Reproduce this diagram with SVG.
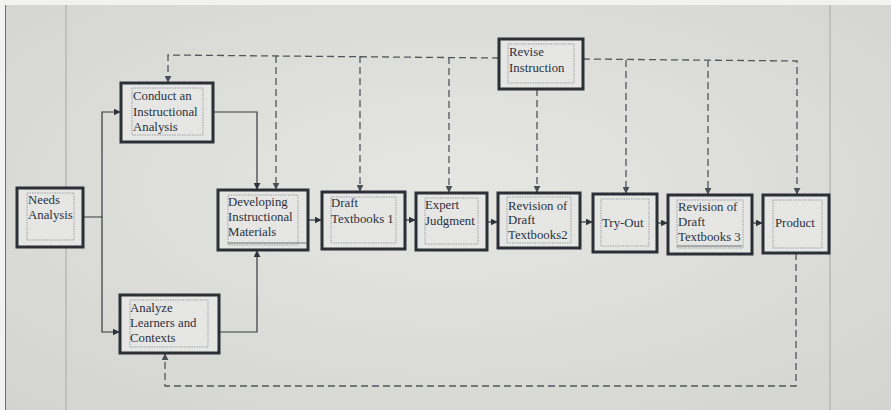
<svg xmlns="http://www.w3.org/2000/svg" width="891" height="410" viewBox="0 0 891 410">
<defs>
<radialGradient id="bg" cx="50%" cy="45%" r="75%">
<stop offset="0" stop-color="#e6e6e3"/>
<stop offset="1" stop-color="#d3d4cf"/>
</radialGradient>
<marker id="ah" viewBox="0 0 10 10" refX="9" refY="5" markerWidth="7" markerHeight="7" markerUnits="userSpaceOnUse" orient="auto">
<path d="M0,0 L10,5 L0,10 z" fill="#2f333a"/>
</marker>
<marker id="ahd" viewBox="0 0 10 10" refX="9" refY="5" markerWidth="7" markerHeight="7" markerUnits="userSpaceOnUse" orient="auto">
<path d="M0,0 L10,5 L0,10 z" fill="#4a4e55"/>
</marker>
</defs>
<style>
.box{fill:#e6e7e4;stroke:#2b2f36;stroke-width:3}
.inner{fill:none;stroke:#8a8d92;stroke-width:0.8;stroke-dasharray:1.5 1}
.t{font-family:"Liberation Serif","Times New Roman",serif;font-size:12.8px;fill:#2b3140}
.s{fill:none;stroke:#35393f;stroke-width:1.2}
.d{fill:none;stroke:#52565c;stroke-width:1.3;stroke-dasharray:7 4}
</style>
<rect x="0" y="0" width="891" height="410" fill="#f2f2f0"/>
<rect x="5" y="5" width="886" height="405" fill="url(#bg)"/>
<line x1="5.5" y1="5" x2="5.5" y2="410" stroke="#6d6f70" stroke-width="1"/>
<line x1="66" y1="5" x2="66" y2="410" stroke="#a6a8a6" stroke-width="1"/>
<line x1="830" y1="5" x2="830" y2="410" stroke="#a6a8a6" stroke-width="1"/>

<g id="connectors">
<path class="s" d="M83,217 H102 V112 H120" marker-end="url(#ah)"/>
<path class="s" d="M102,217 V332 H119" marker-end="url(#ah)"/>
<path class="s" d="M213,112 H257 V189" marker-end="url(#ah)"/>
<path class="s" d="M219,332 H257 V251" marker-end="url(#ah)"/>
<path class="s" d="M308,220 H321" marker-end="url(#ah)"/>
<path class="s" d="M405,220 H415" marker-end="url(#ah)"/>
<path class="s" d="M487,222 H497" marker-end="url(#ah)"/>
<path class="s" d="M580,222 H592" marker-end="url(#ah)"/>
<path class="s" d="M657,223 H667" marker-end="url(#ah)"/>
<path class="s" d="M752,223 H762" marker-end="url(#ah)"/>

<path class="d" d="M499,58 L168,55 V82" marker-end="url(#ahd)"/>
<path class="d" d="M276,56 V189" marker-end="url(#ahd)"/>
<path class="d" d="M360,56 V191" marker-end="url(#ahd)"/>
<path class="d" d="M449,57 V192" marker-end="url(#ahd)"/>
<path class="d" d="M537,89 V192" marker-end="url(#ahd)"/>
<path class="d" d="M583,59 L797,61 V194" marker-end="url(#ahd)"/>
<path class="d" d="M626,60 V193" marker-end="url(#ahd)"/>
<path class="d" d="M708,60 V194" marker-end="url(#ahd)"/>
<path class="d" d="M796,253 V386 H165 V354" marker-end="url(#ahd)"/>
</g>

<g id="needs">
<rect class="box" x="17" y="188" width="66" height="59"/>
<rect class="inner" x="27" y="193" width="47" height="47"/>
<text class="t" x="28" y="204">Needs</text>
<text class="t" x="28" y="219">Analysis</text>
</g>
<g id="conduct">
<rect class="box" x="121" y="83" width="92" height="59"/>
<rect class="inner" x="132" y="88" width="71" height="47"/>
<text class="t" x="133" y="100">Conduct an</text>
<text class="t" x="133" y="116">Instructional</text>
<text class="t" x="133" y="131">Analysis</text>
</g>
<g id="analyze">
<rect class="box" x="120" y="295" width="99" height="58"/>
<rect class="inner" x="130" y="300" width="78" height="47"/>
<text class="t" x="130" y="312">Analyze</text>
<text class="t" x="130" y="327">Learners and</text>
<text class="t" x="130" y="342">Contexts</text>
</g>
<g id="developing">
<rect class="box" x="218" y="190" width="90" height="60"/>
<rect class="inner" x="228" y="195" width="70" height="50"/>
<line x1="228" y1="243" x2="306" y2="243" stroke="#6b6e73" stroke-width="1"/>
<text class="t" x="228" y="206">Developing</text>
<text class="t" x="228" y="221">Instructional</text>
<text class="t" x="228" y="236">Materials</text>
</g>
<g id="draft1">
<rect class="box" x="322" y="192" width="83" height="57"/>
<rect class="inner" x="331" y="197" width="65" height="46"/>
<text class="t" x="331" y="207">Draft</text>
<text class="t" x="331" y="223">Textbooks 1</text>
</g>
<g id="expert">
<rect class="box" x="416" y="193" width="71" height="57"/>
<rect class="inner" x="425" y="198" width="53" height="46"/>
<text class="t" x="425" y="209">Expert</text>
<text class="t" x="425" y="225">Judgment</text>
</g>
<g id="revision2">
<rect class="box" x="498" y="193" width="82" height="55"/>
<rect class="inner" x="507" y="197" width="64" height="46"/>
<text class="t" x="508" y="210">Revision of</text>
<text class="t" x="508" y="224">Draft</text>
<text class="t" x="508" y="239" font-size="11.5">Textbooks2</text>
</g>
<g id="revise">
<rect class="box" x="499" y="39" width="84" height="50"/>
<rect class="inner" x="508" y="44" width="66" height="39"/>
<text class="t" x="509" y="56">Revise</text>
<text class="t" x="509" y="72">Instruction</text>
</g>
<g id="tryout">
<rect class="box" x="593" y="194" width="64" height="58"/>
<rect class="inner" x="601" y="199" width="48" height="47"/>
<text class="t" x="602" y="227">Try-Out</text>
</g>
<g id="revision3">
<rect class="box" x="668" y="195" width="84" height="59"/>
<rect class="inner" x="677" y="200" width="66" height="48"/>
<line x1="677" y1="246" x2="742" y2="246" stroke="#6b6e73" stroke-width="1"/>
<text class="t" x="678" y="211">Revision of</text>
<text class="t" x="678" y="226">Draft</text>
<text class="t" x="678" y="241">Textbooks 3</text>
</g>
<g id="product">
<rect class="box" x="763" y="195" width="66" height="58"/>
<rect class="inner" x="773" y="200" width="49" height="48"/>
<text class="t" x="775" y="227">Product</text>
</g>
</svg>
